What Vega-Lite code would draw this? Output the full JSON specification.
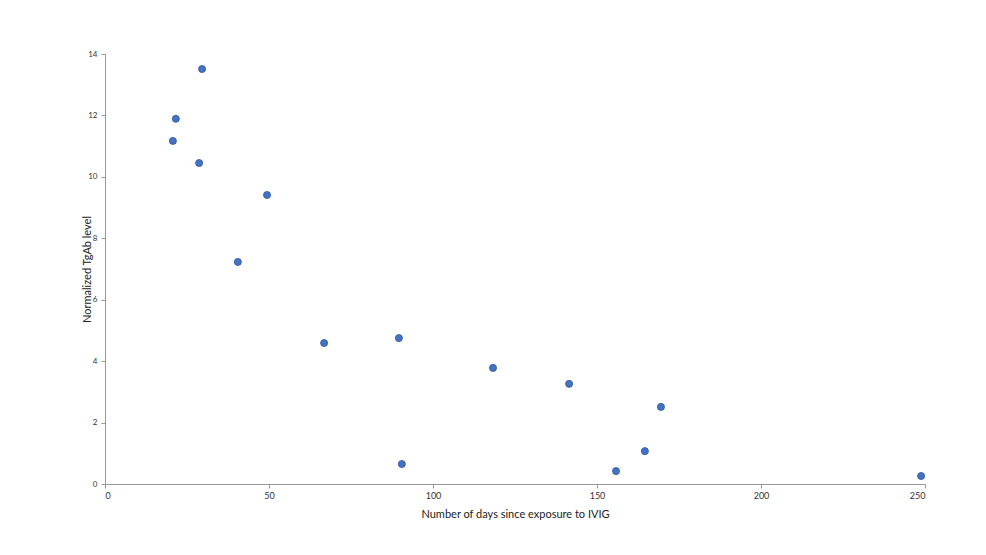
{
  "$schema": "https://vega.github.io/schema/vega-lite/v6.json",
  "width": 820,
  "height": 430,
  "autosize": {"type": "none"},
  "padding": {"left": 105, "top": 54, "right": 61, "bottom": 71},
  "background": "white",
  "config": {"view": {"stroke": null}, "font": "Lato"},
  "data": {"values": [
    {"days": 20.7, "level": 11.17},
    {"days": 21.6, "level": 11.89},
    {"days": 29.6, "level": 13.51},
    {"days": 28.7, "level": 10.45},
    {"days": 49.4, "level": 9.41},
    {"days": 40.5, "level": 7.23},
    {"days": 66.8, "level": 4.59},
    {"days": 89.6, "level": 4.75},
    {"days": 90.5, "level": 0.65},
    {"days": 118.3, "level": 3.78},
    {"days": 141.5, "level": 3.26},
    {"days": 155.8, "level": 0.42},
    {"days": 164.6, "level": 1.07},
    {"days": 169.5, "level": 2.51},
    {"days": 248.8, "level": 0.26}
  ]},
  "mark": {"type": "point", "filled": true, "size": 50, "color": "#4472C4", "stroke": "#2F5597", "strokeWidth": 0.8, "opacity": 1},
  "encoding": {
    "x": {
      "field": "days", "type": "quantitative",
      "scale": {"domain": [0, 250], "nice": false, "zero": true},
      "axis": {"values": [0, 50, 100, 150, 200, 250], "grid": false, "title": "Number of days since exposure to IVIG",
        "titleFontSize": 11, "titleFontWeight": "normal", "titleColor": "#222", "titlePadding": 8,
        "labelFontSize": 9, "labelColor": "#333", "domainColor": "#999", "tickColor": "#999", "tickSize": 4, "labelPadding": 3}
    },
    "y": {
      "field": "level", "type": "quantitative",
      "scale": {"domain": [0, 14], "nice": false},
      "axis": {"values": [0, 2, 4, 6, 8, 10, 12, 14], "grid": false, "title": "Normalized TgAb level",
        "titleFontSize": 11, "titleFontWeight": "normal", "titleColor": "#222", "titlePadding": -5,
        "labelFontSize": 8, "labelColor": "#333", "domainColor": "#999", "tickColor": "#999", "tickSize": 4, "labelPadding": 4}
    }
  }
}
